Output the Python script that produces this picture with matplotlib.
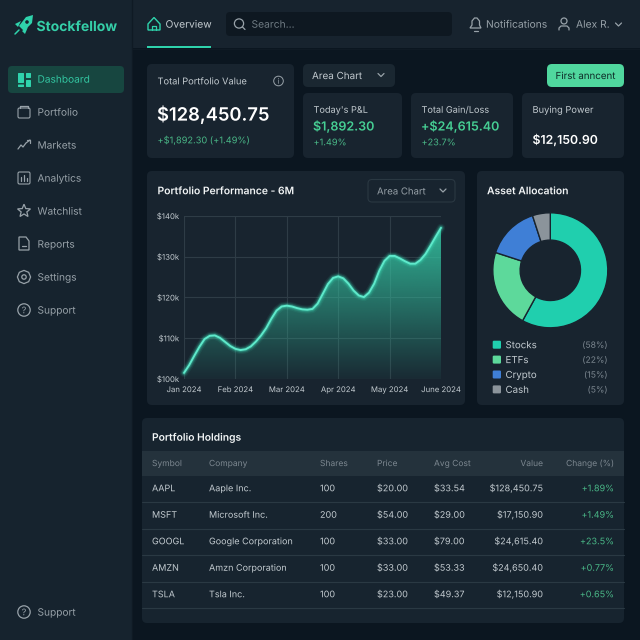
"""
Stockfellow dashboard mockup: sidebar, KPI cards, area chart, donut, holdings table.
"""
import numpy as np
import matplotlib
matplotlib.use('Agg')
import matplotlib.pyplot as plt
import matplotlib.patches as mpatches
import matplotlib.patheffects as pe

plt.rcParams['font.family'] = ['Inter', 'DejaVu Sans']
plt.rcParams['text.hinting'] = 'no_hinting'

NAV_ITEMS = ['Dashboard', 'Portfolio', 'Markets', 'Analytics', 'Watchlist', 'Reports', 'Settings', 'Support']

MONTHS = ['Jan 2024', 'Feb 2024', 'Mar 2024', 'Apr 2024', 'May 2024', 'June 2024']
Y_TICKS = [100, 110, 120, 130, 140]
Y_LABELS = ['$100k', '$110k', '$120k', '$130k', '$140k']
# portfolio value in $k, read every tenth of a month
PERF_VALUES = [101.5, 103.4, 105.7, 107.9, 109.8, 110.6, 110.7, 110.1, 109.1, 108.1,
               107.4, 107.1, 107.3, 108.0, 109.2, 110.7, 112.5, 114.8, 116.8, 117.8,
               118.0, 117.8, 117.4, 117.1, 117.0, 117.2, 118.5, 120.9, 123.3, 124.8,
               125.2, 124.7, 123.4, 121.7, 120.5, 120.1, 121.2, 123.4, 126.6, 129.0,
               130.2, 130.2, 129.6, 128.9, 128.3, 128.3, 129.2, 130.7, 132.8, 135.0,
               137.1]
PERF_STEP = 0.1

ASSETS = ['Stocks', 'ETFs', 'Crypto', 'Cash']
ASSET_SHARE = [58, 22, 15, 5]
ASSET_COLORS = ['#20cfae', '#5dd99b', '#3f7fd6', '#8b949b']

TABLE_HEAD = ['Symbol', 'Company', 'Shares', 'Price', 'Avg Cost', 'Value', 'Change (%)']
SYMBOLS = ['AAPL', 'MSFT', 'GOOGL', 'AMZN', 'TSLA']
COMPANIES = ['Aaple Inc.', 'Microsoft Inc.', 'Google Corporation', 'Amzn Corporation', 'Tsla Inc.']
SHARES = ['100', '200', '100', '100', '100']
PRICES = ['$20.00', '$54.00', '$33.00', '$33.00', '$23.00']
AVG_COST = ['$33.54', '$29.00', '$79.00', '$53.33', '$49.37']
VALUES = ['$128,450.75', '$17,150.90', '$24,615.40', '$24,650.40', '$12,150.90']
CHANGES = ['+1.89%', '+1.49%', '+23.5%', '+0.77%', '+0.65%']

BG = '#0b1620'
SIDE = '#16232e'
CARD = '#18242f'
TEAL = '#2fd3ac'
GREEN = '#4ab988'
WHITE = '#f2f5f6'
LIGHT = '#c3cbd0'
GREY = '#98a2a9'
DIM = '#7d8891'
W, H = 640, 640
# the path effect routes text through vector drawing, so baselines do not snap per string
VECTOR = [pe.Normal()]


def _card(ax, x0, y0, x1, y1, color=CARD, r=5, edge='none', z=1):
    ax.add_patch(mpatches.FancyBboxPatch((x0, y0), x1 - x0, y1 - y0,
                                         boxstyle=f"round,pad=0,rounding_size={r}",
                                         fc=color, ec=edge, lw=0.8, zorder=z))


def _txt(ax, x, y, s, size=7.5, color=LIGHT, ha='left', weight='normal'):
    # y is the middle of the capitals, so rows share one baseline
    ax.text(x, y + 0.36 * size * 100 / 72, s, fontsize=size, color=color, ha=ha, va='baseline',
            fontweight=weight, zorder=6, path_effects=VECTOR)


def _line(ax, xs, ys, color=GREY, lw=0.9):
    ax.plot(xs, ys, color=color, lw=lw, zorder=5, solid_capstyle='round', solid_joinstyle='round')


def _ring(ax, x, y, r, color=GREY, lw=0.9):
    ax.add_patch(mpatches.Circle((x, y), r, fc='none', ec=color, lw=lw, zorder=5))


def _chevron(ax, x, y, color=GREY):
    _line(ax, [x - 3, x, x + 3], [y - 1.5, y + 1.5, y - 1.5], color=color)


def _rocket(ax):
    ax.add_patch(mpatches.Polygon([(33, 15), (32, 23), (24, 31), (19, 26), (26, 17)], fc=TEAL, zorder=5))
    ax.add_patch(mpatches.Polygon([(21, 21), (15, 24), (18, 27)], fc=TEAL, zorder=5))
    ax.add_patch(mpatches.Polygon([(28, 27), (25, 34), (22, 31)], fc=TEAL, zorder=5))
    ax.add_patch(mpatches.Circle((27, 22), 1.8, fc=SIDE, zorder=6))
    _line(ax, [19, 15], [30, 34], color=TEAL, lw=1.1)


def _nav_icon(ax, i, x, y, c):
    if i == 0:
        for (x0, y0, w, h) in [(18, 73, 6, 10), (26, 73, 5, 5), (26, 80, 5, 7), (18, 84.5, 6, 2.5)]:
            _card(ax, x0, y0, x0 + w, y0 + h, color=TEAL, r=0.6, z=5)
    elif i == 1:
        _card(ax, x - 6, y - 4, x + 6, y + 6, color='none', r=1.5, edge=c, z=5)
        _line(ax, [x - 4, x - 4, x + 4, x + 4], [y - 4, y - 6, y - 6, y - 4], color=c)
    elif i == 2:
        _line(ax, [x - 6, x - 3, x - 1, x + 2, x + 6], [y + 4, y, y + 2, y - 2, y - 5], color=c)
        _line(ax, [x + 3, x + 6, x + 6], [y - 5, y - 5, y - 2], color=c)
    elif i == 3:
        _card(ax, x - 6, y - 6, x + 6, y + 6, color='none', r=1.5, edge=c, z=5)
        for dx, top in zip([-3, 0, 3], [-1, -3, 0]):
            _line(ax, [x + dx, x + dx], [y + 3, y + top], color=c)
    elif i == 4:
        a = np.radians(np.arange(0, 360, 36) - 90)
        rad = np.where(np.arange(10) % 2 == 0, 6.8, 3)
        ax.add_patch(mpatches.Polygon(np.c_[x + rad * np.cos(a), y + rad * np.sin(a)],
                                      fc='none', ec=c, lw=0.9, zorder=5))
    elif i == 5:
        ax.add_patch(mpatches.Polygon([(x - 5, y - 7), (x + 2, y - 7), (x + 5, y - 3), (x + 5, y + 6), (x - 5, y + 6)],
                                      fc='none', ec=c, lw=0.9, zorder=5))
        _line(ax, [x - 2, x + 2], [y + 2, y + 2], color=c)
    elif i == 6:
        _ring(ax, x, y, 2.2, c)
        ax.add_patch(mpatches.RegularPolygon((x, y), 8, radius=6.6, fc='none', ec=c, lw=0.9, zorder=5))
    else:
        _ring(ax, x, y, 6.2, c)
        _txt(ax, x, y, '?', size=6.5, color=c, ha='center')


fig = plt.figure(figsize=(W / 100, H / 100), dpi=100, facecolor=BG)
ui = fig.add_axes([0, 0, 1, 1])
ui.set_xlim(0, W)
ui.set_ylim(H, 0)
ui.axis('off')

# sidebar and top bar
ui.add_patch(mpatches.Rectangle((0, 0), 132, H, fc=SIDE, zorder=1))
ui.add_patch(mpatches.Rectangle((132, 0), W - 132, 48, fc='#17232e', zorder=1))
_line(ui, [132, 132], [0, H], color='#0f1a24', lw=1.0)
_line(ui, [132, W], [48.5, 48.5], color='#0f1a24', lw=0.8)

_rocket(ui)
_txt(ui, 36.5, 26, 'Stockfellow', size=10, color='#35cfa8', weight='bold')

_card(ui, 8, 66, 124, 93, color='#174640', r=4, z=2)
for i, name in enumerate(NAV_ITEMS):
    y = 79 + 33 * i
    col = TEAL if i == 0 else GREY
    _nav_icon(ui, i, 24, y, col)
    _txt(ui, 37.5, y, name, size=7.3, color='#33c7a2' if i == 0 else GREY)
_nav_icon(ui, 7, 24, 612, GREY)
_txt(ui, 37.5, 612, 'Support', size=7.3, color=GREY)

# top bar content
ui.add_patch(mpatches.Polygon([(148, 24), (154, 17.5), (160, 24), (160, 30), (148, 30)],
                              fc='none', ec=TEAL, lw=1.0, zorder=5))
_line(ui, [152, 152, 156, 156], [30, 25.5, 25.5, 30], color=TEAL)
_txt(ui, 165.5, 24, 'Overview', size=7.4, color=LIGHT)
ui.add_patch(mpatches.Rectangle((147, 46), 64, 2, fc=TEAL, zorder=5))
_card(ui, 226, 12, 452, 36, color='#0e1821', r=4, z=2)
_ring(ui, 239, 23.5, 4.6, GREY)
_line(ui, [242.5, 245], [27, 29.5])
_txt(ui, 251.5, 24, 'Search...', size=7.4, color='#6f7b83')
ui.add_patch(mpatches.Polygon([(470, 28), (472, 25), (472, 21), (474.5, 18), (477, 18), (479.5, 21), (479.5, 25), (481, 28)],
                              fc='none', ec=GREY, lw=0.9, zorder=5))
_line(ui, [474, 477.5], [30.5, 30.5])
_txt(ui, 486, 24, 'Notifications', size=7.4, color=GREY)
_ring(ui, 564, 21, 3, GREY)
_line(ui, [559, 559, 561, 567, 569, 569], [30, 28, 26, 26, 28, 30])
_txt(ui, 576, 24, 'Alex R.', size=7.4, color=GREY)
_chevron(ui, 618.5, 24.5)

# KPI row
_card(ui, 147, 64, 294, 158)
_txt(ui, 157.5, 81, 'Total Portfolio Value', size=6.7, color=LIGHT)
_ring(ui, 278.5, 81, 4.8, GREY, lw=0.7)
_txt(ui, 278.5, 81, 'i', size=5.5, color=GREY, ha='center')
_txt(ui, 157, 114, '$128,450.75', size=13.2, color='#ffffff', weight='semibold')
_txt(ui, 157.5, 140, '+$1,892.30 (+1.49%)', size=6.65, color=GREEN)

_card(ui, 303, 64, 395, 87, color='#1a2731')
_txt(ui, 312, 75.5, 'Area Chart', size=7.1, color=LIGHT)
_chevron(ui, 381, 75)
_card(ui, 547, 64, 624, 87, color='#50d79e')
_txt(ui, 585.5, 75.5, 'First anncent', size=7, color='#0e2a26', ha='center')

for x0, x1 in [(303, 402), (411, 513), (522, 624)]:
    _card(ui, x0, 93, x1, 158)
_txt(ui, 313.5, 109.5, "Today's P&L", size=6.6, color=LIGHT)
_txt(ui, 313, 126, '$1,892.30', size=9, color='#46cf94', weight='semibold')
_txt(ui, 313.5, 142, '+1.49%', size=6.6, color=GREEN)
_txt(ui, 421.5, 109.5, 'Total Gain/Loss', size=6.6, color=LIGHT)
_txt(ui, 421, 126, '+$24,615.40', size=9, color='#46cf94', weight='semibold')
_txt(ui, 421.5, 142, '+23.7%', size=6.6, color=GREEN)
_txt(ui, 532.5, 109.5, 'Buying Power', size=6.7, color=LIGHT)
_txt(ui, 532.5, 139.5, '$12,150.90', size=8.8, color='#ffffff', weight='semibold')

# performance panel
_card(ui, 147, 171, 465, 405)
_txt(ui, 157.5, 190.5, 'Portfolio Performance - 6M', size=7.45, color=WHITE, weight='semibold')
_card(ui, 368, 179.5, 455, 202, color=CARD, r=4, edge='#2a3842', z=2)
_txt(ui, 377, 191, 'Area Chart', size=6.9, color=GREY)
_chevron(ui, 443, 190.5, color=GREY)

ax = fig.add_axes([184 / W, 1 - 379 / H, (441 - 184) / W, (379 - 216) / H], facecolor='none')
xs = np.arange(len(PERF_VALUES)) * PERF_STEP
ys = np.array(PERF_VALUES)
ax.set_xlim(0, 5)
ax.set_ylim(100, 140)

grad = np.zeros((256, 2, 4))
grad[..., :3] = matplotlib.colors.to_rgb('#35c9a5')
grad[..., 3] = np.linspace(0.88, 0.04, 256)[:, None]
poly = ax.fill_between(xs, ys, 100, color='none')
im = ax.imshow(grad, extent=(0, 5, 100, 137.5), origin='upper', aspect='auto', zorder=2)
im.set_clip_path(poly.get_paths()[0], transform=ax.transData)
ax.set_xlim(0, 5)
ax.set_ylim(100, 140)

for lw, a in [(6, 0.08), (4.2, 0.16), (2.8, 0.28)]:
    ax.plot(xs, ys, color='#3fe6bf', lw=lw, alpha=a, zorder=3, clip_on=False, solid_capstyle='round')
ax.plot(xs, ys, color='#5fe9cb', lw=1.4, zorder=4, clip_on=False, solid_capstyle='round')

ax.set_xticks(range(len(MONTHS)), MONTHS)
ax.set_yticks(Y_TICKS, Y_LABELS)
ax.tick_params(length=0, labelsize=5.6, labelcolor=LIGHT)
ax.tick_params(axis='x', pad=9.4)
ax.tick_params(axis='y', pad=3.5)
for lab in ax.get_xticklabels():
    lab.set_va('baseline')
for lab in ax.get_xticklabels() + ax.get_yticklabels():
    lab.set_path_effects(VECTOR)
ax.grid(True, color='#2e3c46', lw=0.8)
ax.set_axisbelow(True)
for s in ax.spines.values():
    s.set_visible(False)

# allocation panel
_card(ui, 477, 171, 624, 405)
_txt(ui, 487, 190.5, 'Asset Allocation', size=7.45, color=WHITE, weight='semibold')
R = 57.5
pie_ax = fig.add_axes([(550.3 - R) / W, 1 - (270.3 + R) / H, 2 * R / W, 2 * R / H], facecolor='none')
pie_ax.pie(ASSET_SHARE, colors=ASSET_COLORS, startangle=90, counterclock=False, radius=1,
           wedgeprops=dict(width=0.475, edgecolor=CARD, linewidth=1.0))
pie_ax.set_xlim(-1, 1)
pie_ax.set_ylim(-1, 1)

for i, (name, share, col) in enumerate(zip(ASSETS, ASSET_SHARE, ASSET_COLORS)):
    y = 344.7 + 14.9 * i
    _card(ui, 492.7, y - 4, 501, y + 4, color=col, r=1.2, z=5)
    _txt(ui, 505.5, y, name, size=7, color=LIGHT)
    _txt(ui, 607.5, y, f'({share}%)', size=6.2, color=DIM, ha='right')

# holdings table
_card(ui, 142, 418, 624, 623, color='#17242f')
_txt(ui, 152, 437, 'Portfolio Holdings', size=7.4, color=WHITE, weight='semibold')
ui.add_patch(mpatches.Rectangle((142, 451), 482, 25, fc='#24323c', zorder=2))
COL_X = [152, 209, 320, 377, 434, 543, 614]
COL_HA = ['left', 'left', 'left', 'left', 'left', 'right', 'right']
for x, ha, s in zip(COL_X, COL_HA, TABLE_HEAD):
    _txt(ui, x, 463, s, size=6.1, color=DIM, ha=ha)
for i, row in enumerate(zip(SYMBOLS, COMPANIES, SHARES, PRICES, AVG_COST, VALUES, CHANGES)):
    y = 488 + 26.5 * i
    for j, (x, ha, s) in enumerate(zip(COL_X, COL_HA, row)):
        _txt(ui, x, y, s, size=6.5, color=GREEN if j == 6 else LIGHT, ha=ha)
    _line(ui, [142, 624], [y + 14, y + 14], color='#2a3943', lw=0.8)

fig.savefig('out.png', dpi=100, facecolor=BG)
